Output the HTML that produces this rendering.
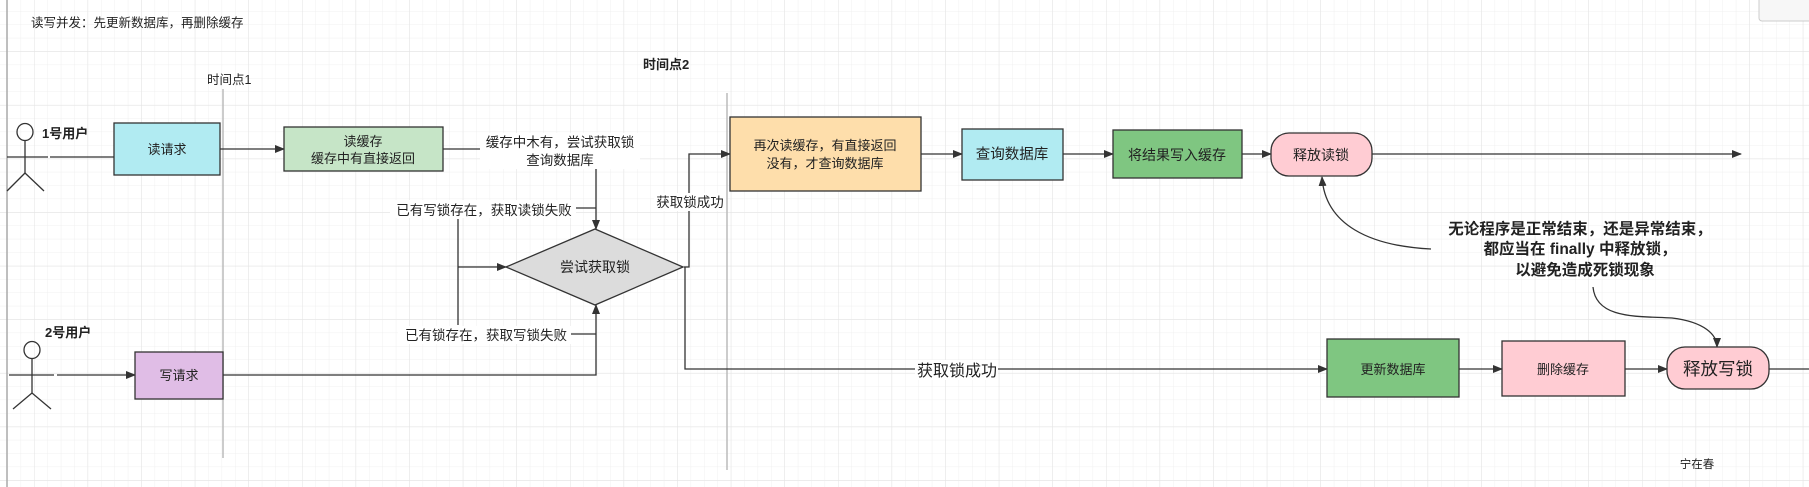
<!DOCTYPE html>
<html><head><meta charset="utf-8">
<style>
html,body{margin:0;padding:0;background:#fff;}
svg{display:block;}
text{font-family:"Liberation Sans","Noto Sans CJK SC",sans-serif;fill:#222;}
</style></head>
<body>
<svg width="1809" height="487" viewBox="0 0 1809 487" xmlns="http://www.w3.org/2000/svg">
<defs>
<pattern id="minor" x="7.2" y="11" width="13.4" height="13.4" patternUnits="userSpaceOnUse">
<path d="M0 0H13.4M0 0V13.4" stroke="#f0f0f0" stroke-width="1" fill="none"/>
</pattern>
<pattern id="major" x="34" y="51.5" width="53.6" height="53.6" patternUnits="userSpaceOnUse">
<path d="M0 0H53.6M0 0V53.6" stroke="#e3e3e3" stroke-width="1" fill="none"/>
</pattern>
<marker id="a" markerWidth="10" markerHeight="8" refX="9" refY="4" orient="auto" markerUnits="userSpaceOnUse">
<path d="M0 0L10 4L0 8Z" fill="#333"/>
</marker>
</defs>
<rect width="1809" height="487" fill="#fff"/>
<rect width="1809" height="487" fill="url(#minor)"/>
<rect width="1809" height="487" fill="url(#major)"/>
<line x1="7" y1="0" x2="7" y2="487" stroke="#aaa" stroke-width="1.5"/>
<rect x="1759" y="-5" width="60" height="26" rx="3" fill="#f7f7f7" stroke="#ccc"/>

<text x="31" y="27" font-size="12.5">读写并发：先更新数据库，再删除缓存</text>
<text x="207" y="84" font-size="12.5">时间点1</text>
<line x1="223" y1="89" x2="223" y2="458" stroke="#bbb" stroke-width="1.5"/>
<text x="643" y="69" font-size="13" font-weight="bold">时间点2</text>
<line x1="727" y1="93" x2="727" y2="470" stroke="#bbb" stroke-width="1.5"/>

<!-- actor 1 -->
<g stroke="#333" stroke-width="1.3" fill="none">
<ellipse cx="25" cy="132" rx="8" ry="8.5"/>
<line x1="25" y1="140.5" x2="25" y2="173"/>
<line x1="7" y1="157" x2="48" y2="157"/>
<line x1="25" y1="173" x2="7" y2="191"/>
<line x1="25" y1="173" x2="44" y2="191"/>
<ellipse cx="32" cy="350" rx="8" ry="8.5"/>
<line x1="32" y1="358.5" x2="32" y2="393"/>
<line x1="9" y1="375" x2="54" y2="375"/>
<line x1="32" y1="393" x2="13" y2="409"/>
<line x1="32" y1="393" x2="51" y2="409"/>
</g>
<text x="42" y="138" font-size="13" font-weight="bold">1号用户</text>
<text x="45" y="337" font-size="13" font-weight="bold">2号用户</text>

<!-- connectors -->
<g stroke="#333" stroke-width="1.3" fill="none">
<line x1="50" y1="157" x2="114" y2="157"/>
<line x1="220" y1="149" x2="284" y2="149" marker-end="url(#a)"/>
<line x1="443" y1="149" x2="482" y2="149"/>
<line x1="596" y1="169" x2="596" y2="229" marker-end="url(#a)"/>
<polyline points="576,208 596,208"/>
<line x1="458" y1="219" x2="458" y2="325"/>
<line x1="458" y1="267" x2="506" y2="267" marker-end="url(#a)"/>
<polyline points="571,334 596,334"/>
<line x1="57" y1="375" x2="135" y2="375" marker-end="url(#a)"/>
<polyline points="223,375 596,375 596,305" marker-end="url(#a)"/>
<polyline points="684,267 689,267 689,154 730,154" marker-end="url(#a)"/>
<line x1="921" y1="154" x2="962" y2="154" marker-end="url(#a)"/>
<line x1="1063" y1="154" x2="1113" y2="154" marker-end="url(#a)"/>
<line x1="1242" y1="154" x2="1271" y2="154" marker-end="url(#a)"/>
<line x1="1372" y1="154" x2="1741" y2="154" marker-end="url(#a)"/>
<polyline points="685,267 685,369 1327,369" marker-end="url(#a)"/>
<line x1="1459" y1="369" x2="1502" y2="369" marker-end="url(#a)"/>
<line x1="1625" y1="369" x2="1667" y2="369" marker-end="url(#a)"/>
<line x1="1769" y1="369" x2="1809" y2="369"/>
<path d="M1431 249 C1370 246 1325 225 1322 177" marker-end="url(#a)"/>
<path d="M1593 287 C1596 320 1640 316 1672 318 C1705 322 1717 335 1717 347" marker-end="url(#a)"/>
</g>

<!-- nodes -->
<g stroke="#333" stroke-width="1.3">
<rect x="114" y="123" width="106" height="52" fill="#b1ebf2"/>
<rect x="284" y="127" width="159" height="44" fill="#c6e5c7"/>
<polygon points="595,229 683,267 595,305 506,267" fill="#dcdcdc"/>
<rect x="135" y="352" width="88" height="47" fill="#e0bde6"/>
<rect x="730" y="117" width="191" height="74" fill="#fedeab"/>
<rect x="962" y="129" width="101" height="51" fill="#b1ebf2"/>
<rect x="1113" y="130" width="129" height="48" fill="#7fc681"/>
<rect x="1271" y="133" width="101" height="43" rx="18" fill="#ffccd3"/>
<rect x="1327" y="339" width="132" height="58" fill="#7fc681"/>
<rect x="1502" y="341" width="123" height="55" fill="#ffccd3"/>
<rect x="1667" y="347" width="102" height="42" rx="18" fill="#ffccd3"/>
</g>

<!-- label backgrounds -->
<g fill="#fff">
<rect x="480" y="133" width="160" height="36"/>
<rect x="390" y="200" width="186" height="18"/>
<rect x="398" y="326" width="173" height="18"/>
<rect x="654" y="193" width="72" height="18"/>
<rect x="915" y="360" width="83" height="20"/>
</g>

<g font-size="13" text-anchor="middle">
<text x="167" y="154">读请求</text>
<text x="363" y="146">读缓存</text>
<text x="363" y="163">缓存中有直接返回</text>
<text x="560" y="147" font-size="13.5">缓存中木有，尝试获取锁</text>
<text x="560" y="165" font-size="13.5">查询数据库</text>
<text x="484" y="215" font-size="13.5">已有写锁存在，获取读锁失败</text>
<text x="595" y="272" font-size="14">尝试获取锁</text>
<text x="486" y="340" font-size="13.5">已有锁存在，获取写锁失败</text>
<text x="179" y="380">写请求</text>
<text x="690" y="207" font-size="13.5">获取锁成功</text>
<text x="825" y="150">再次读缓存，有直接返回</text>
<text x="825" y="168">没有，才查询数据库</text>
<text x="1012" y="159" font-size="14.5">查询数据库</text>
<text x="1177" y="160" font-size="14">将结果写入缓存</text>
<text x="1321" y="160" font-size="14">释放读锁</text>
<text x="957" y="376" font-size="16">获取锁成功</text>
<text x="1393" y="374">更新数据库</text>
<text x="1563" y="374">删除缓存</text>
<text x="1718" y="375" font-size="17.5">释放写锁</text>
<g font-size="15.5" font-weight="bold">
<text x="1580" y="234">无论程序是正常结束，还是异常结束，</text>
<text x="1580" y="254">都应当在 finally 中释放锁，</text>
<text x="1585" y="275">以避免造成死锁现象</text>
</g>
<text x="1697" y="468" font-size="11.5">宁在春</text>
</g>
</svg>
</body></html>
